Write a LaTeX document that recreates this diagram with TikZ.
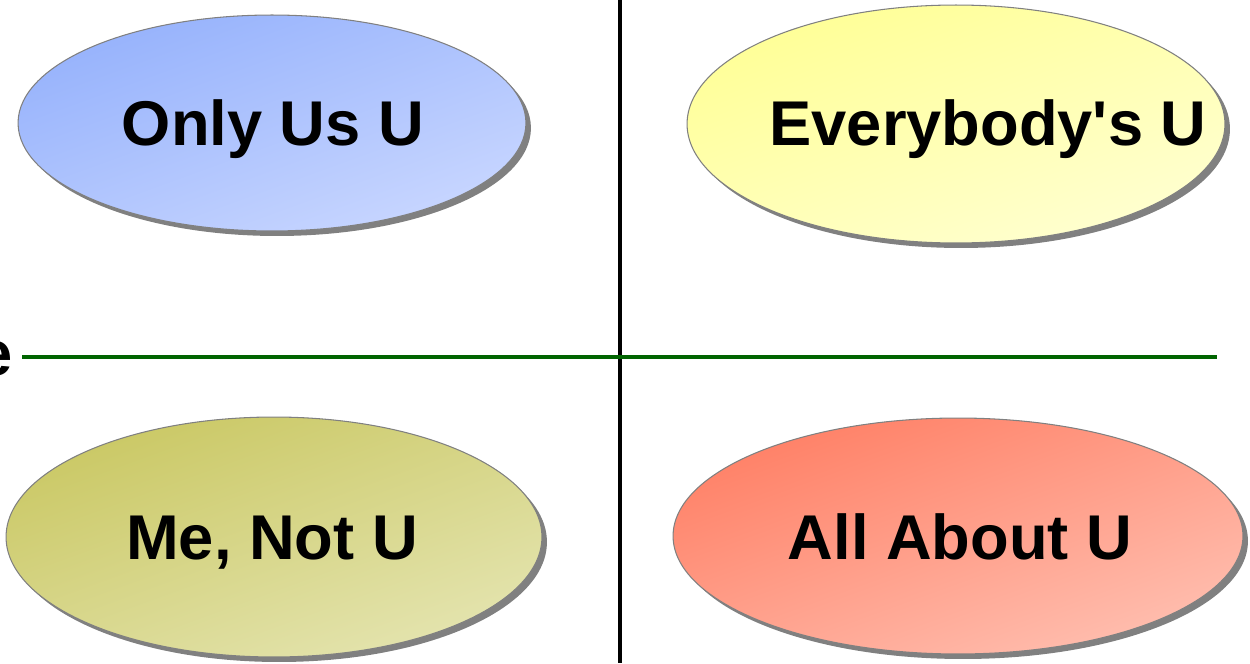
\documentclass[tikz,border=0pt]{standalone}
\usepackage{fontspec}
\setmainfont{Liberation Sans}
\usetikzlibrary{shapes.geometric}
\definecolor{blueA}{RGB}{150,178,252}
\definecolor{blueB}{RGB}{200,214,255}
\definecolor{yelA}{RGB}{255,255,150}
\definecolor{yelB}{RGB}{255,255,208}
\definecolor{oliA}{RGB}{202,200,100}
\definecolor{oliB}{RGB}{228,228,175}
\definecolor{redA}{RGB}{255,128,102}
\definecolor{redB}{RGB}{255,190,175}
\definecolor{axisgreen}{RGB}{0,100,0}
\definecolor{rimgrey}{RGB}{128,128,128}
\tikzset{
  quad/.style={ellipse, draw=rimgrey, line width=0.6pt, inner sep=0pt},
  grad/.style n args={2}{top color=#1, bottom color=#2, shading angle=20},
  shadowell/.style={ellipse, fill=rimgrey, draw=none, inner sep=0pt},
  lbl/.style={font=\fontsize{36}{40}\selectfont\bfseries, text=black,
    anchor=base, inner sep=0pt},
}
\begin{document}
\begin{tikzpicture}[x=0.02cm,y=-0.02cm]
\useasboundingbox (0,0) rectangle (1250,663);
% axes
\coordinate (vt) at (620,0);
\coordinate (vb) at (620,663);
\draw[line width=2pt, black] (vt) -- (vb);
\coordinate (hl) at (22,357);
\coordinate (hr) at (1217,357);
\draw[line width=2pt, axisgreen] (hl) -- (hr);
\node[lbl, anchor=base east] (ecut) at (13,375) {e};
% shadows
\node[shadowell, minimum width=10.16cm, minimum height=4.32cm] at (277,128) {};
\node[shadowell, minimum width=10.76cm, minimum height=4.76cm] at (961,129) {};
\node[shadowell, minimum width=10.72cm, minimum height=4.8cm] at (279,542) {};
\node[shadowell, minimum width=11.4cm, minimum height=4.72cm] at (963,541) {};
% quadrants
\node[quad, grad={blueA}{blueB}, minimum width=10.16cm, minimum height=4.32cm] (ous) at (272,123) {};
\node[quad, grad={yelA}{yelB}, minimum width=10.76cm, minimum height=4.76cm] (eve) at (956,124) {};
\node[quad, grad={oliA}{oliB}, minimum width=10.72cm, minimum height=4.8cm] (men) at (274,537) {};
\node[quad, grad={redA}{redB}, minimum width=11.4cm, minimum height=4.72cm] (all) at (958,536) {};
% labels
\node[lbl] (tous) at (273,145) {Only Us U};
\node[lbl] (teve) at (988,145) {Everybody\textquotesingle s U};
\node[lbl] (tmen) at (272,559) {Me, Not U};
\node[lbl] (tall) at (960,559) {All About U};
\end{tikzpicture}
\end{document}
